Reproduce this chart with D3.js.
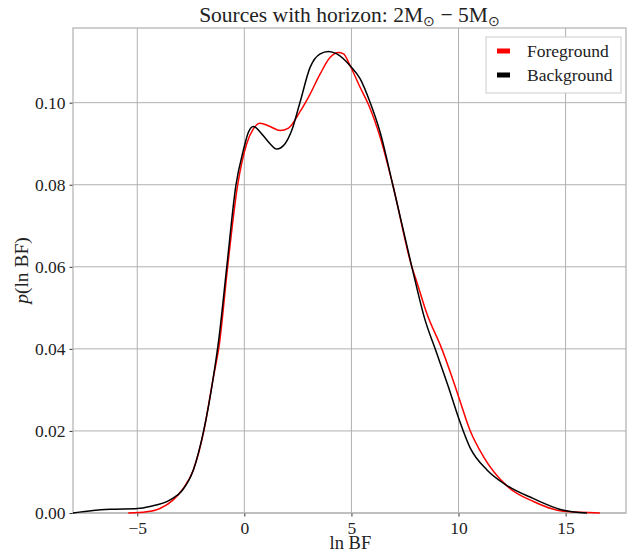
<!DOCTYPE html>
<html>
<head>
<meta charset="utf-8">
<script src="https://cdn.jsdelivr.net/npm/d3@7"></script>
<style>
  body { margin: 0; background: #fff; }
  text { font-family: "Liberation Serif", "Times New Roman", serif; fill: #222; }
</style>
</head>
<body>
<div id="chart"></div>
<script>
// density curves (x = ln BF, y = density)
const bgX = [-8.0, -7.06, -6.27, -4.98, -4.41, -3.47, -2.9, -2.38, -1.9, -1.45, -1.2, -0.82, -0.39, -0.05, 0.19, 0.42, 0.81, 1.2, 1.51, 1.9, 2.21, 2.6, 3.07, 3.54, 3.93, 4.32, 4.94, 5.41, 5.87, 6.34, 6.93, 7.82, 8.44, 8.91, 9.53, 10.0, 10.55, 11.33, 12.26, 13.5, 14.8, 16.0];
const bgY = [0.0, 0.0006, 0.0009, 0.0011, 0.0016, 0.0032, 0.0055, 0.0105, 0.02, 0.033, 0.042, 0.06, 0.08, 0.0883, 0.0928, 0.0942, 0.0924, 0.09, 0.0887, 0.09, 0.0932, 0.1001, 0.1086, 0.1119, 0.1125, 0.1119, 0.109, 0.1058, 0.1001, 0.0928, 0.08, 0.06, 0.047, 0.04, 0.0307, 0.0232, 0.0158, 0.0105, 0.0067, 0.0035, 0.0008, 0.0];

const fgX = [-5.42, -4.56, -3.94, -3.32, -2.85, -2.38, -1.9, -1.45, -1.17, -0.78, -0.31, 0.11, 0.42, 0.73, 1.2, 1.67, 2.06, 2.6, 3.07, 3.54, 4.0, 4.39, 4.63, 4.94, 5.41, 5.8, 6.34, 6.93, 7.82, 8.06, 8.52, 9.22, 9.69, 10.0, 10.55, 11.17, 12.26, 13.5, 14.9, 16.6];
const fgY = [0.0, 0.0003, 0.0011, 0.0032, 0.006, 0.0105, 0.0198, 0.033, 0.041, 0.06, 0.08, 0.09, 0.0936, 0.095, 0.0942, 0.0932, 0.0938, 0.0978, 0.1021, 0.107, 0.111, 0.1122, 0.1119, 0.109, 0.1037, 0.0995, 0.0916, 0.08, 0.06, 0.0562, 0.0486, 0.04, 0.0332, 0.0284, 0.02, 0.0137, 0.0066, 0.0028, 0.0004, 0.0];

const xTicks = [-5, 0, 5, 10, 15];
const yTicks = [0, 0.02, 0.04, 0.06, 0.08, 0.1];
const seriesNames = ["Foreground", "Background"];
const seriesColors = ["#ff0000", "#000000"];

const width = 632;
const height = 555;
const margin = { top: 28, right: 6, bottom: 42, left: 73 };
const innerWidth = width - margin.left - margin.right;
const innerHeight = height - margin.top - margin.bottom;

const svg = d3.select("#chart").append("svg")
  .attr("width", width)
  .attr("height", height);

const g = svg.append("g")
  .attr("transform", `translate(${margin.left},${margin.top})`);

const x = d3.scaleLinear().domain([-8.0, 17.82]).range([0, innerWidth]);
const y = d3.scaleLinear().domain([0, 0.1182]).range([innerHeight, 0]);

// grid
g.append("g").selectAll("line").data(xTicks).join("line")
  .attr("x1", d => x(d)).attr("x2", d => x(d))
  .attr("y1", 0).attr("y2", innerHeight)
  .attr("stroke", "#b0b0b0").attr("stroke-width", 1);
g.append("g").selectAll("line").data(yTicks).join("line")
  .attr("x1", 0).attr("x2", innerWidth)
  .attr("y1", d => y(d)).attr("y2", d => y(d))
  .attr("stroke", "#b0b0b0").attr("stroke-width", 1);

// axes
const fmtX = d => (d < 0 ? "\u2212" + Math.abs(d) : String(d));
const xAxis = g.append("g")
  .attr("transform", `translate(0,${innerHeight})`)
  .call(d3.axisBottom(x).tickValues(xTicks).tickFormat(fmtX).tickSize(3.5).tickPadding(5));
const yAxis = g.append("g")
  .call(d3.axisLeft(y).tickValues(yTicks).tickFormat(d3.format(".2f")).tickSize(3.5).tickPadding(4));

[xAxis, yAxis].forEach(a => {
  a.select(".domain").remove();
  a.selectAll("text").attr("font-size", 17.5).attr("font-family", "Liberation Serif").attr("fill", "#222");
  a.selectAll(".tick line").attr("stroke", "#333");
});

// frame
g.append("rect")
  .attr("width", innerWidth).attr("height", innerHeight)
  .attr("fill", "none").attr("stroke", "#b0b0b0").attr("stroke-width", 1.2);

// curves
const line = d3.line()
  .x(d => x(d[0]))
  .y(d => y(d[1]))
  .curve(d3.curveMonotoneX);

const curves = [d3.zip(fgX, fgY), d3.zip(bgX, bgY)];
g.append("g").selectAll("path").data(curves).join("path")
  .attr("d", line)
  .attr("fill", "none")
  .attr("stroke", (d, i) => seriesColors[i])
  .attr("stroke-width", 1.5);

// title
const title = svg.append("text")
  .attr("x", margin.left + innerWidth / 2)
  .attr("y", 22)
  .attr("text-anchor", "middle")
  .attr("font-size", 21.5);
title.append("tspan").text("Sources with horizon: 2M");
title.append("tspan").attr("font-size", 13.5).attr("dy", 4).text("\u2299");
title.append("tspan").attr("dy", -4).text(" \u2212 5M");
title.append("tspan").attr("font-size", 13.5).attr("dy", 4).text("\u2299");

// axis labels
svg.append("text")
  .attr("x", margin.left + x(5) - 1)
  .attr("y", 549)
  .attr("text-anchor", "middle")
  .attr("font-size", 18.5)
  .text("ln BF");

const yl = svg.append("text")
  .attr("transform", `translate(28,${margin.top + innerHeight / 2}) rotate(-90)`)
  .attr("text-anchor", "middle")
  .attr("font-size", 19.5);
yl.append("tspan").attr("font-style", "italic").text("p");
yl.append("tspan").text("(ln BF)");

// legend
const legend = svg.append("g").attr("transform", "translate(486,37)");
legend.append("rect")
  .attr("width", 135).attr("height", 56)
  .attr("fill", "#fff").attr("stroke", "#cccccc").attr("stroke-width", 1);
const items = legend.selectAll("g.item").data(seriesNames).join("g")
  .attr("class", "item")
  .attr("transform", (d, i) => `translate(0,${14 + i * 24})`);
items.append("rect")
  .attr("x", 11).attr("y", -2.5)
  .attr("width", 13).attr("height", 5)
  .attr("fill", (d, i) => seriesColors[i]);
items.append("text")
  .attr("x", 41).attr("y", 6)
  .attr("font-size", 17.5)
  .text(d => d);
</script>
</body>
</html>
